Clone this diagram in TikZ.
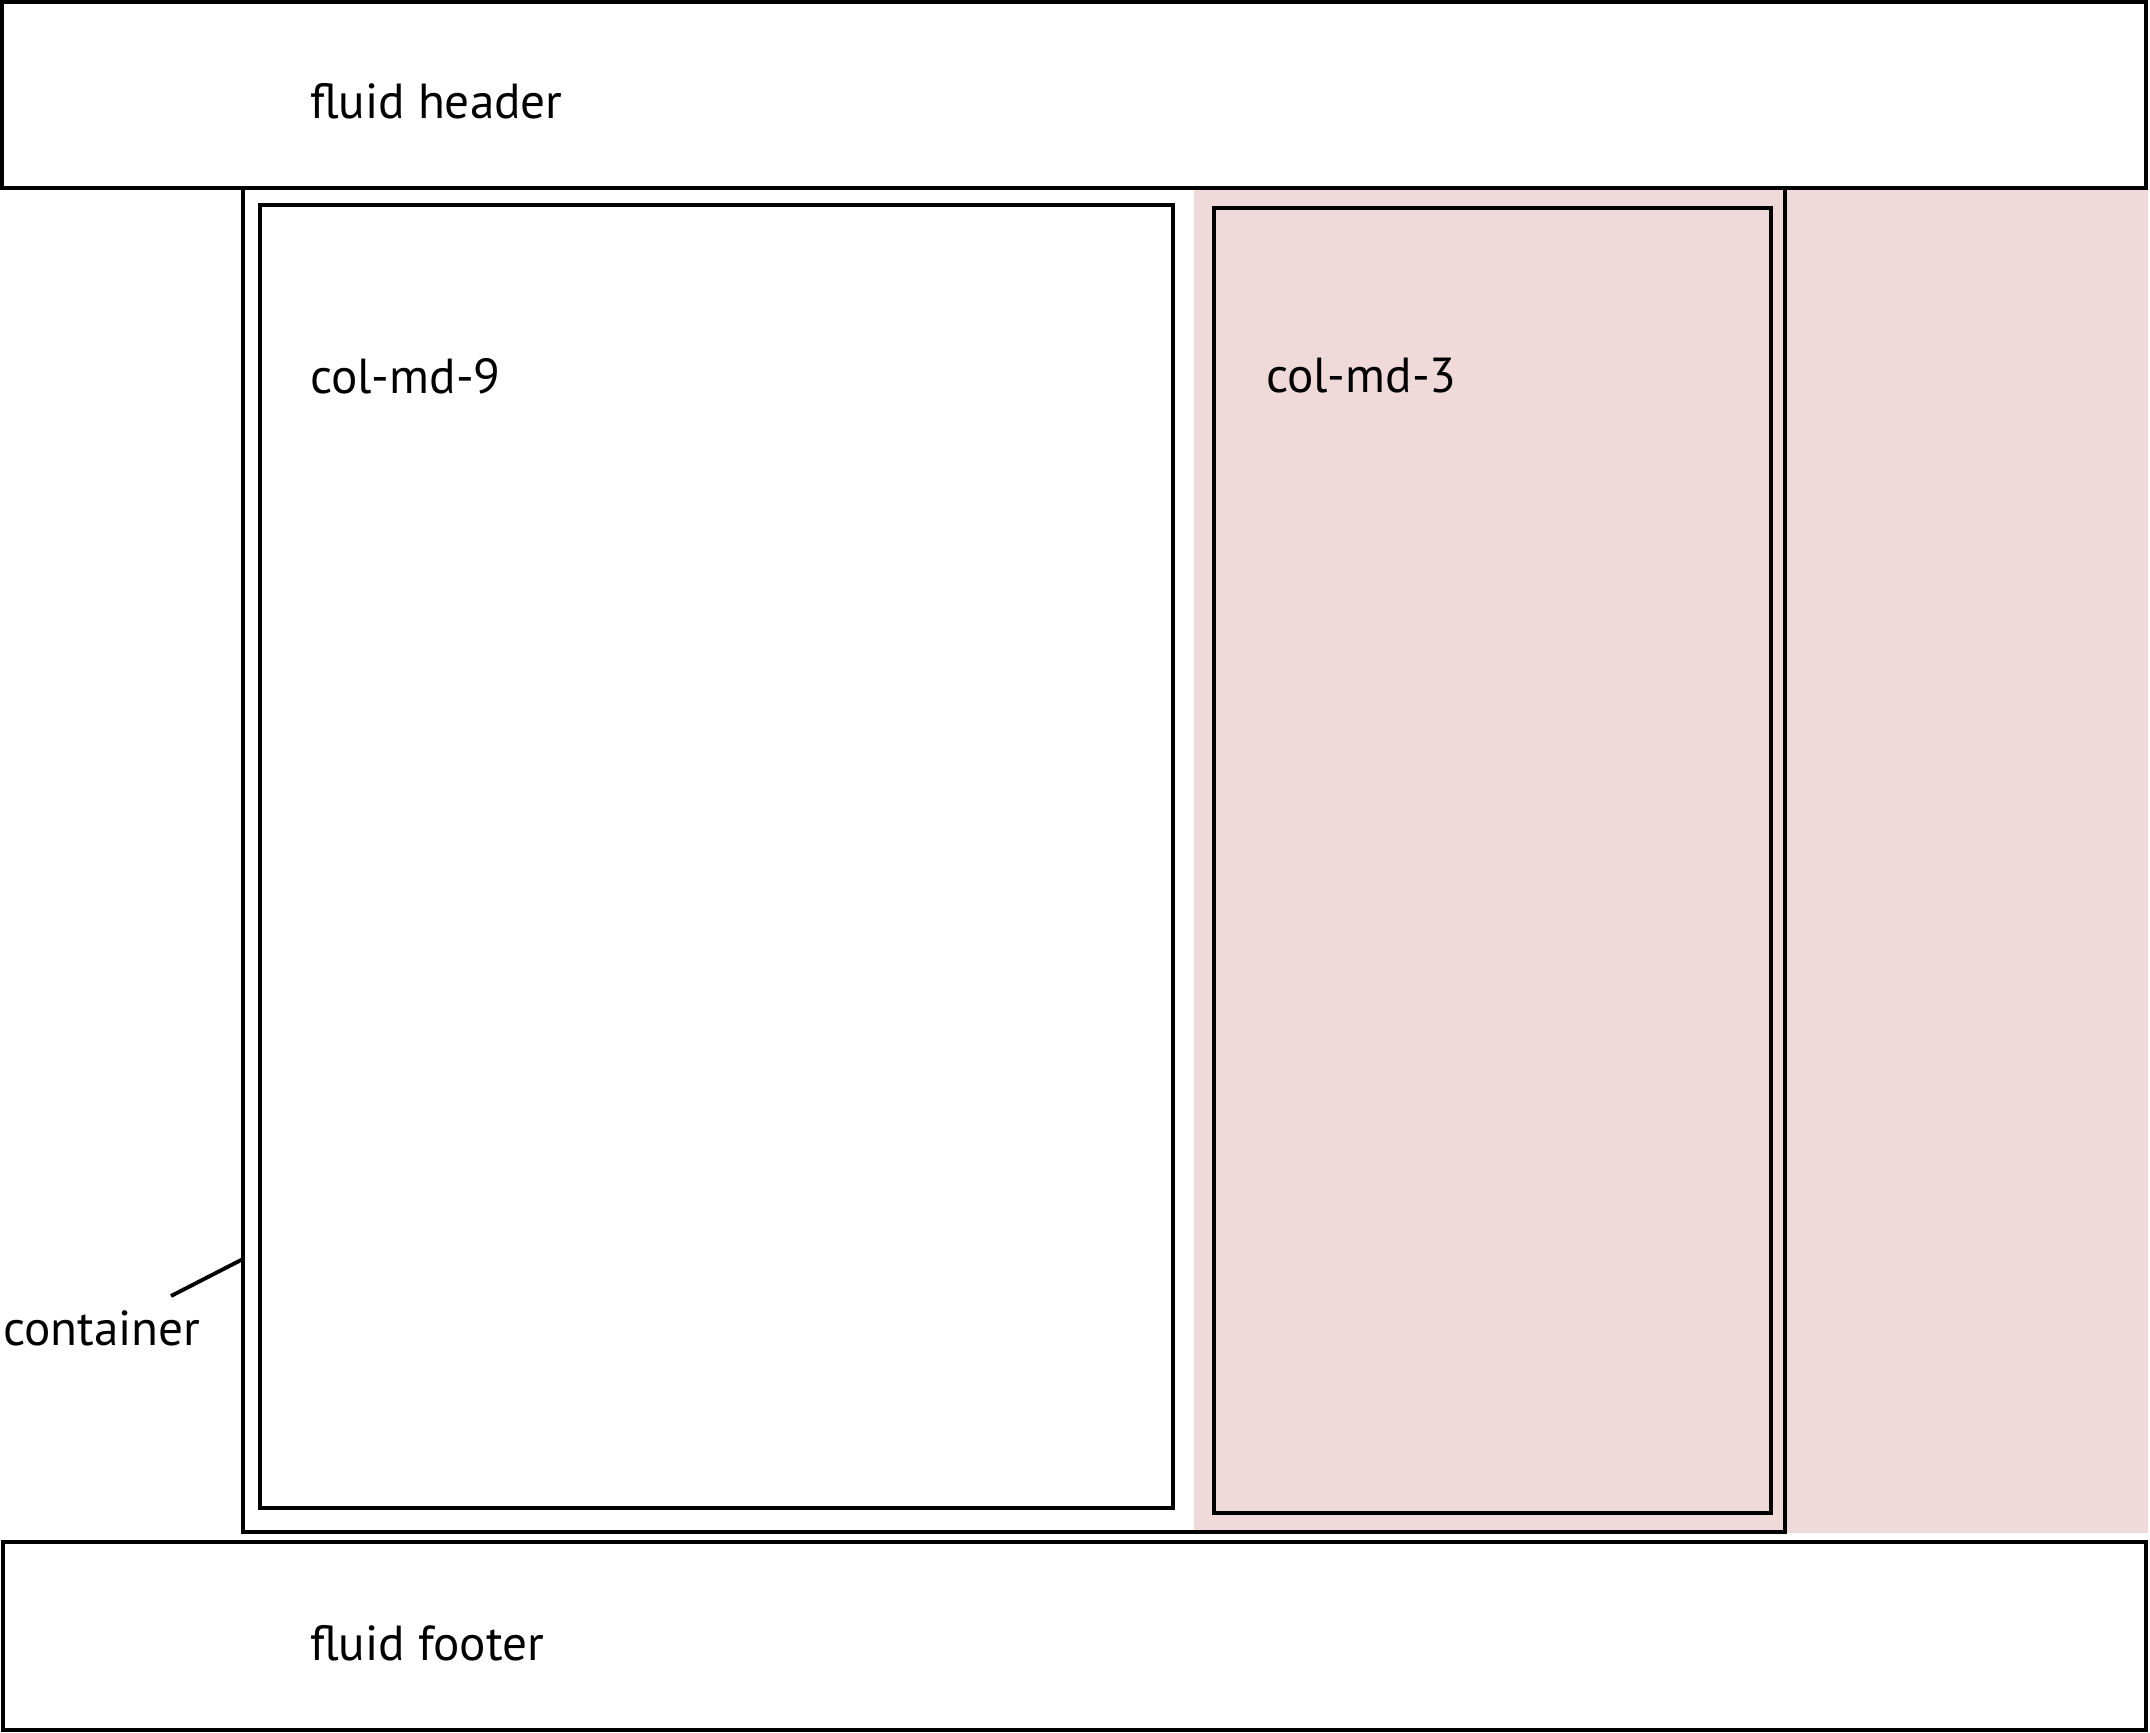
\documentclass[tikz,border=0pt]{standalone}
\usepackage{fontspec}
\setmainfont{PT Sans}
\definecolor{pinkbg}{RGB}{239,217,217}
\tikzset{
  frame/.style={draw=black, line width=1.2pt},
  colbox/.style={draw=black, line width=1.05pt},
  lbl/.style={inner sep=0pt, outer sep=0pt, anchor=base west, font=\fontsize{14}{17}\selectfont},
  leader/.style={draw=black, line width=1.1pt}
}
\begin{document}
\begin{tikzpicture}[x=0.01cm, y=-0.01cm]
  \useasboundingbox[fill=white] (0,0) rectangle (2150,1732);
  % corners
  \coordinate (hdrA) at (2,2);     \coordinate (hdrB) at (2146,188);
  \coordinate (conA) at (243,188); \coordinate (conB) at (1785,1532);
  \coordinate (pnkA) at (1194,190); \coordinate (pnkB) at (2148,1533);
  \coordinate (c9A) at (260,205);  \coordinate (c9B) at (1173,1508);
  \coordinate (c3A) at (1214,208); \coordinate (c3B) at (1771,1513);
  \coordinate (ftrA) at (3,1542);  \coordinate (ftrB) at (2146,1730);
  \coordinate (leadS) at (171,1296);
  \coordinate (leadE) at (243,1259);
  % pink band
  \fill[pinkbg] (pnkA) rectangle (pnkB);
  % boxes
  \draw[frame] (conA) rectangle (conB);
  \draw[colbox] (c9A) rectangle (c9B);
  \draw[colbox] (c3A) rectangle (c3B);
  \draw[frame, fill=white] (hdrA) rectangle (hdrB);
  \draw[frame, fill=white] (ftrA) rectangle (ftrB);
  % texts
  \node[lbl] (hdrtxt) at (310,118) {fluid header};
  \node[lbl] (c9txt) at (310,393) {col-md-9};
  \node[lbl] (c3txt) at (1266,392) {col-md-3};
  \node[lbl] (ftrtxt) at (310,1660) {fluid footer};
  \node[lbl] (contxt) at (3,1345) {container};
  % leader
  \draw[leader] (leadS) -- (leadE);
\end{tikzpicture}
\end{document}
